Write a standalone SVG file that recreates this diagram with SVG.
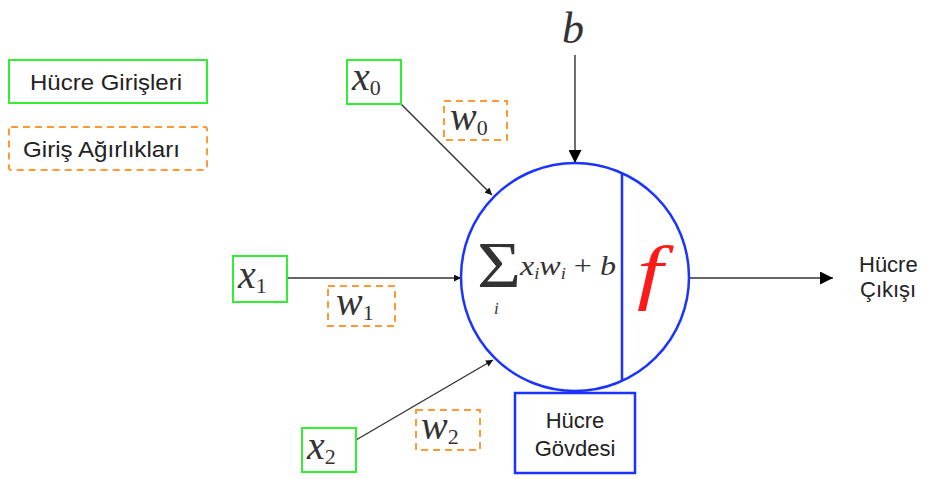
<svg xmlns="http://www.w3.org/2000/svg" width="928" height="479" viewBox="0 0 928 479">
<style>
.lbl{font-family:"Liberation Sans",Arial,sans-serif;font-size:22px;fill:#222}
.math{font-family:"Liberation Serif","Times New Roman",serif;fill:#333}
.it{font-style:italic}
.sub{font-size:22px}
.inp{fill:#fff;stroke:#33ee33;stroke-width:2}
.wt{fill:#fff;stroke:#ff9933;stroke-width:2;stroke-dasharray:7 5}
.con{stroke:#333;stroke-width:1.4;fill:none}
.blue{stroke:#1a33ff;stroke-width:2.5;fill:none}
</style>
<defs>
<marker id="sm" viewBox="0 0 10 10" refX="10" refY="5" markerWidth="8" markerHeight="7" markerUnits="userSpaceOnUse" orient="auto"><path d="M0,0 L10,5 L0,10 z" fill="#111"/></marker>
<marker id="lg" viewBox="0 0 10 10" refX="10" refY="5" markerWidth="15" markerHeight="13" markerUnits="userSpaceOnUse" orient="auto"><path d="M0,0 L10,5 L0,10 z" fill="#000"/></marker>
</defs>
<g id="legend-inputs"><rect class="inp" x="9" y="60" width="198" height="43"/><text class="lbl" x="106" y="90" text-anchor="middle" textLength="152" lengthAdjust="spacingAndGlyphs">Hücre Girişleri</text></g>
<g id="legend-weights"><rect class="wt" x="9" y="127" width="198" height="43" rx="2"/><text class="lbl" x="23" y="157" textLength="157" lengthAdjust="spacingAndGlyphs">Giriş Ağırlıkları</text></g>
<g id="connectors">
<line class="con" x1="401" y1="104" x2="492" y2="195" marker-end="url(#sm)"/>
<line class="con" x1="287" y1="278" x2="461" y2="278" marker-end="url(#sm)"/>
<line class="con" x1="356" y1="440" x2="493" y2="360" marker-end="url(#sm)"/>
<line class="con" x1="575" y1="55" x2="575" y2="163" stroke-width="1.8" marker-end="url(#lg)"/>
<line class="con" x1="690" y1="278" x2="833" y2="278" stroke-width="1.8" marker-end="url(#lg)"/>
</g>
<g id="b"><text class="math it" x="562" y="43" font-size="44">b</text></g>
<g id="x0"><rect class="inp" x="347" y="60" width="54" height="44"/><text class="math" x="352" y="90"><tspan class="it" font-size="40">x</tspan><tspan class="sub" dy="5">0</tspan></text></g>
<g id="w0"><rect class="wt" x="444" y="101" width="63" height="39"/><text class="math" x="450" y="130"><tspan class="it" font-size="40">w</tspan><tspan class="sub" dy="5">0</tspan></text></g>
<g id="x1"><rect class="inp" x="233" y="256" width="54" height="46"/><text class="math" x="238" y="288"><tspan class="it" font-size="40">x</tspan><tspan class="sub" dy="5">1</tspan></text></g>
<g id="w1"><rect class="wt" x="328" y="286" width="67" height="40"/><text class="math" x="336" y="315"><tspan class="it" font-size="40">w</tspan><tspan class="sub" dy="5">1</tspan></text></g>
<g id="x2"><rect class="inp" x="302" y="428" width="54" height="44"/><text class="math" x="307" y="459"><tspan class="it" font-size="40">x</tspan><tspan class="sub" dy="5">2</tspan></text></g>
<g id="w2"><rect class="wt" x="416" y="410" width="64" height="40"/><text class="math" x="421" y="439"><tspan class="it" font-size="40">w</tspan><tspan class="sub" dy="5">2</tspan></text></g>
<g id="cell">
<circle class="blue" cx="575" cy="277" r="114"/>
<line class="blue" x1="622" y1="173" x2="622" y2="381"/>
<text class="math" x="0" y="0" font-size="62" transform="translate(477,287) scale(1.22,1.05)">Σ</text>
<text class="math it" x="494" y="314" font-size="17">i</text>
<text class="math" x="520" y="275" font-size="28" textLength="96" lengthAdjust="spacingAndGlyphs"><tspan class="it">x</tspan><tspan class="it" font-size="16" dy="4">i</tspan><tspan class="it" dy="-4">w</tspan><tspan class="it" font-size="16" dy="4">i</tspan><tspan dy="-4"> + </tspan><tspan class="it">b</tspan></text>
<text class="math it" x="0" y="0" font-size="72" transform="translate(637,296) scale(1.3,1)" style="fill:#ff1a1a">f</text>
</g>
<g id="output"><text class="lbl" x="859" y="272">Hücre</text><text class="lbl" x="860" y="297">Çıkışı</text></g>
<g id="body"><rect x="515" y="393" width="120" height="80" fill="#fff" stroke="#1a33ff" stroke-width="2.5"/><text class="lbl" x="575" y="428" text-anchor="middle">Hücre</text><text class="lbl" x="575" y="456" text-anchor="middle">Gövdesi</text></g>
</svg>
